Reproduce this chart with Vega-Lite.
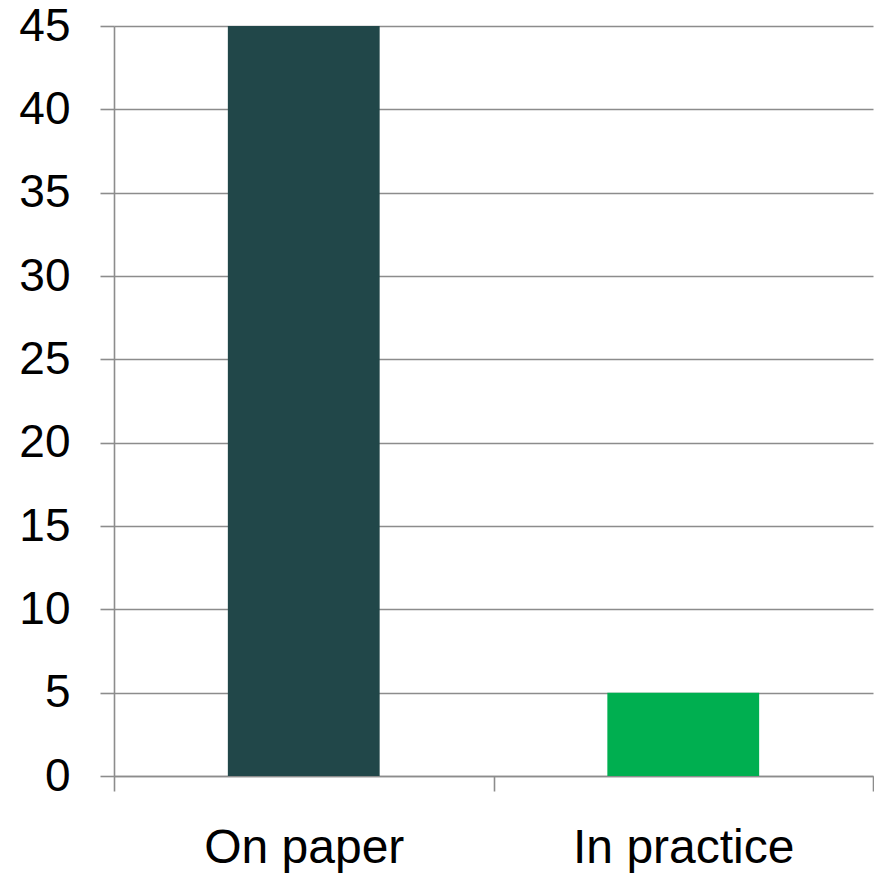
{
  "$schema": "https://vega.github.io/schema/vega-lite/v6.json",
  "width": 759,
  "height": 750,
  "autosize": {"type": "none"},
  "padding": {"left": 114, "top": 26, "right": 1, "bottom": 97},
  "view": {"stroke": null},
  "data": {
    "values": [
      {"category": "On paper", "value": 45},
      {"category": "In practice", "value": 5}
    ]
  },
  "mark": {"type": "bar", "width": {"band": 0.4}},
  "encoding": {
    "x": {
      "field": "category",
      "type": "nominal",
      "sort": null,
      "scale": {"paddingInner": 0, "paddingOuter": 0},
      "axis": {
        "title": null,
        "labelAngle": 0,
        "labelLimit": 0,
        "tickBand": "extent",
        "labelFont": "Liberation Sans",
        "labelFontSize": 48,
        "labelColor": "#000000",
        "labelPadding": 33,
        "tickSize": 15,
        "tickColor": "#8c8c8c",
        "tickWidth": 1.6,
        "domainColor": "#8c8c8c",
        "domainWidth": 1.6,
        "grid": false
      }
    },
    "y": {
      "field": "value",
      "type": "quantitative",
      "scale": {"domain": [0, 45], "nice": false},
      "axis": {
        "title": null,
        "values": [0, 5, 10, 15, 20, 25, 30, 35, 40, 45],
        "labelFont": "Liberation Sans",
        "labelFontSize": 46,
        "labelColor": "#000000",
        "labelPadding": 30,
        "tickSize": 14,
        "tickColor": "#8c8c8c",
        "tickWidth": 1.6,
        "domainColor": "#8c8c8c",
        "domainWidth": 1.6,
        "grid": true,
        "gridColor": "#8c8c8c",
        "gridWidth": 1.6
      }
    },
    "color": {
      "field": "category",
      "type": "nominal",
      "sort": null,
      "scale": {"domain": ["On paper", "In practice"], "range": ["#214749", "#00AF50"]},
      "legend": null
    }
  }
}
